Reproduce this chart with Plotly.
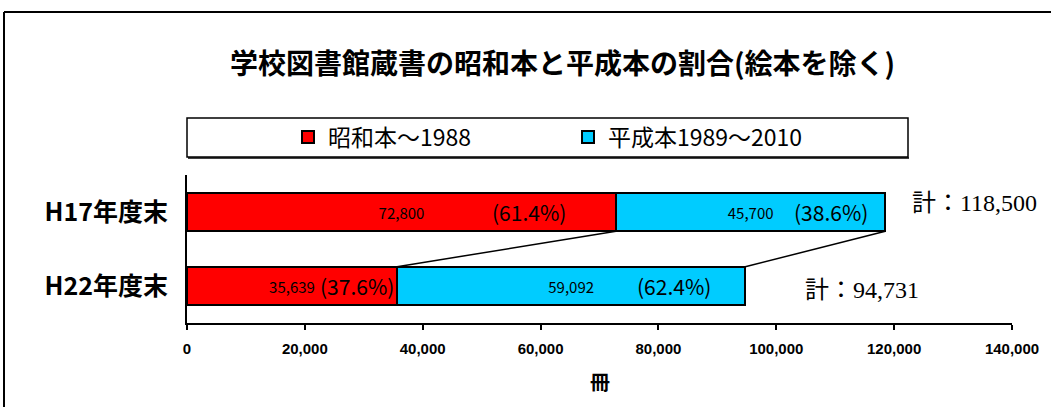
import plotly.graph_objects as go

# ---- data ----
periods = ["H17年度末", "H22年度末"]
showa = [72800, 35639]        # 昭和本〜1988
heisei = [45700, 59092]       # 平成本1989〜2010
series_names = ["昭和本〜1988", "平成本1989〜2010"]
x_ticks = [0, 20000, 40000, 60000, 80000, 100000, 120000, 140000]
x_tick_labels = ["0", "20,000", "40,000", "60,000", "80,000", "100,000", "120,000", "140,000"]
title_text = "学校図書館蔵書の昭和本と平成本の割合(絵本を除く)"
x_title = "冊"

# ---- styling (positions / offsets) ----
RED = "#FF0000"
CYAN = "#00CCFF"
BAR_W = 0.52
JP = "Noto Sans CJK JP"
pct_shift_showa = [-48, -1]
pct_shift_heisei = [-15, -32]
total_shift = [(25, 9), (58, -4)]

totals = [a + b for a, b in zip(showa, heisei)]

fig = go.Figure()
fig.add_trace(go.Bar(
    y=periods, x=showa, orientation="h", name=series_names[0],
    marker=dict(color=RED, line=dict(color="black", width=2)),
    width=BAR_W,
    text=[f"{v:,}" for v in showa], textposition="inside",
    insidetextanchor="middle", constraintext="none",
    textfont=dict(family=JP, size=15, color="black"),
))
fig.add_trace(go.Bar(
    y=periods, x=heisei, orientation="h", name=series_names[1],
    marker=dict(color=CYAN, line=dict(color="black", width=2)),
    width=BAR_W,
    text=[f"{v:,}" for v in heisei], textposition="inside",
    insidetextanchor="middle", constraintext="none",
    textfont=dict(family=JP, size=15, color="black"),
))

annotations = []
for i, p in enumerate(periods):
    annotations.append(dict(
        x=showa[i], y=p, xref="x", yref="y", xanchor="right", yanchor="middle",
        xshift=pct_shift_showa[i], showarrow=False,
        text=f"({showa[i] / totals[i] * 100:.1f}%)",
        font=dict(family=JP, size=21, color="black"),
    ))
    annotations.append(dict(
        x=totals[i], y=p, xref="x", yref="y", xanchor="right", yanchor="middle",
        xshift=pct_shift_heisei[i], showarrow=False,
        text=f"({heisei[i] / totals[i] * 100:.1f}%)",
        font=dict(family=JP, size=21, color="black"),
    ))
    annotations.append(dict(
        x=totals[i], y=p, xref="x", yref="y", xanchor="left", yanchor="middle",
        xshift=total_shift[i][0], yshift=total_shift[i][1], showarrow=False,
        text=f"計：{totals[i]:,}",
        font=dict(family="Liberation Serif, " + JP, size=24, color="black"),
    ))

# plot-area geometry in pixels
L, R, T, B = 187, 1012, 175, 323
W, H = R - L, B - T


def px(xp):
    return (xp - L) / W


def py(yp):
    return (B - yp) / H


annotations.append(dict(
    x=px(600), y=py(381), xref="paper", yref="paper", showarrow=False,
    text=f"<b>{x_title}</b>", font=dict(family=JP, size=20, color="black"),
    xanchor="center", yanchor="middle",
))
annotations.append(dict(
    x=px(562), y=py(62), xref="paper", yref="paper", showarrow=False,
    text=f"<b>{title_text}</b>", font=dict(family=JP, size=28, color="black"),
    xanchor="center", yanchor="middle",
))

shapes = []
shapes.append(dict(type="line", xref="x", yref="y",
                   x0=showa[0], y0=0 + BAR_W / 2, x1=showa[1], y1=1 - BAR_W / 2,
                   line=dict(color="black", width=1.5)))
shapes.append(dict(type="line", xref="x", yref="y",
                   x0=totals[0], y0=0 + BAR_W / 2, x1=totals[1], y1=1 - BAR_W / 2,
                   line=dict(color="black", width=1.5)))
# legend box
shapes.append(dict(type="rect", xref="paper", yref="paper",
                   x0=px(187), x1=px(908), y0=py(157), y1=py(118),
                   line=dict(color="black", width=1.5), fillcolor="white", layer="below"))
shapes.append(dict(type="line", xref="paper", yref="paper",
                   x0=px(188), x1=px(909), y0=py(158), y1=py(158),
                   line=dict(color="black", width=1.5)))
# outer chart border (top & left)
shapes.append(dict(type="line", xref="paper", yref="paper",
                   x0=px(4), x1=px(1051), y0=py(12), y1=py(12),
                   line=dict(color="black", width=2)))
shapes.append(dict(type="line", xref="paper", yref="paper",
                   x0=px(4), x1=px(4), y0=py(12), y1=py(407),
                   line=dict(color="black", width=2)))

fig.update_layout(
    width=1051, height=407,
    margin=dict(l=L, r=1051 - R, t=T, b=407 - B, autoexpand=False),
    paper_bgcolor="white", plot_bgcolor="white",
    barmode="stack",
    showlegend=True,
    legend=dict(orientation="h", x=px(288), xanchor="left", y=py(137), yanchor="middle",
                font=dict(family=JP, size=23, color="black"),
                bgcolor="rgba(0,0,0,0)", borderwidth=0,
                entrywidth=235, entrywidthmode="pixels", itemclick=False,
                itemdoubleclick=False, traceorder="normal"),
    xaxis=dict(range=[0, 140000], tickvals=x_ticks, ticktext=x_tick_labels,
               showgrid=False, zeroline=False, showline=True, linecolor="black", linewidth=2,
               ticks="outside", ticklen=5, tickwidth=1.5, tickcolor="black",
               ticklabelstandoff=6,
               tickfont=dict(family="Liberation Sans", size=15, color="black", weight="bold")),
    yaxis=dict(autorange="reversed", showgrid=False, zeroline=False, showline=True,
               linecolor="black", linewidth=2, ticks="", ticklabelstandoff=12,
               tickfont=dict(family=JP, size=25, color="black", weight="bold")),
    annotations=annotations,
    shapes=shapes,
    font=dict(family=JP, color="black"),
)

fig.write_html("out.html", config={"displayModeBar": False},
               post_script="document.body.style.margin='0';document.body.style.padding='0';")
